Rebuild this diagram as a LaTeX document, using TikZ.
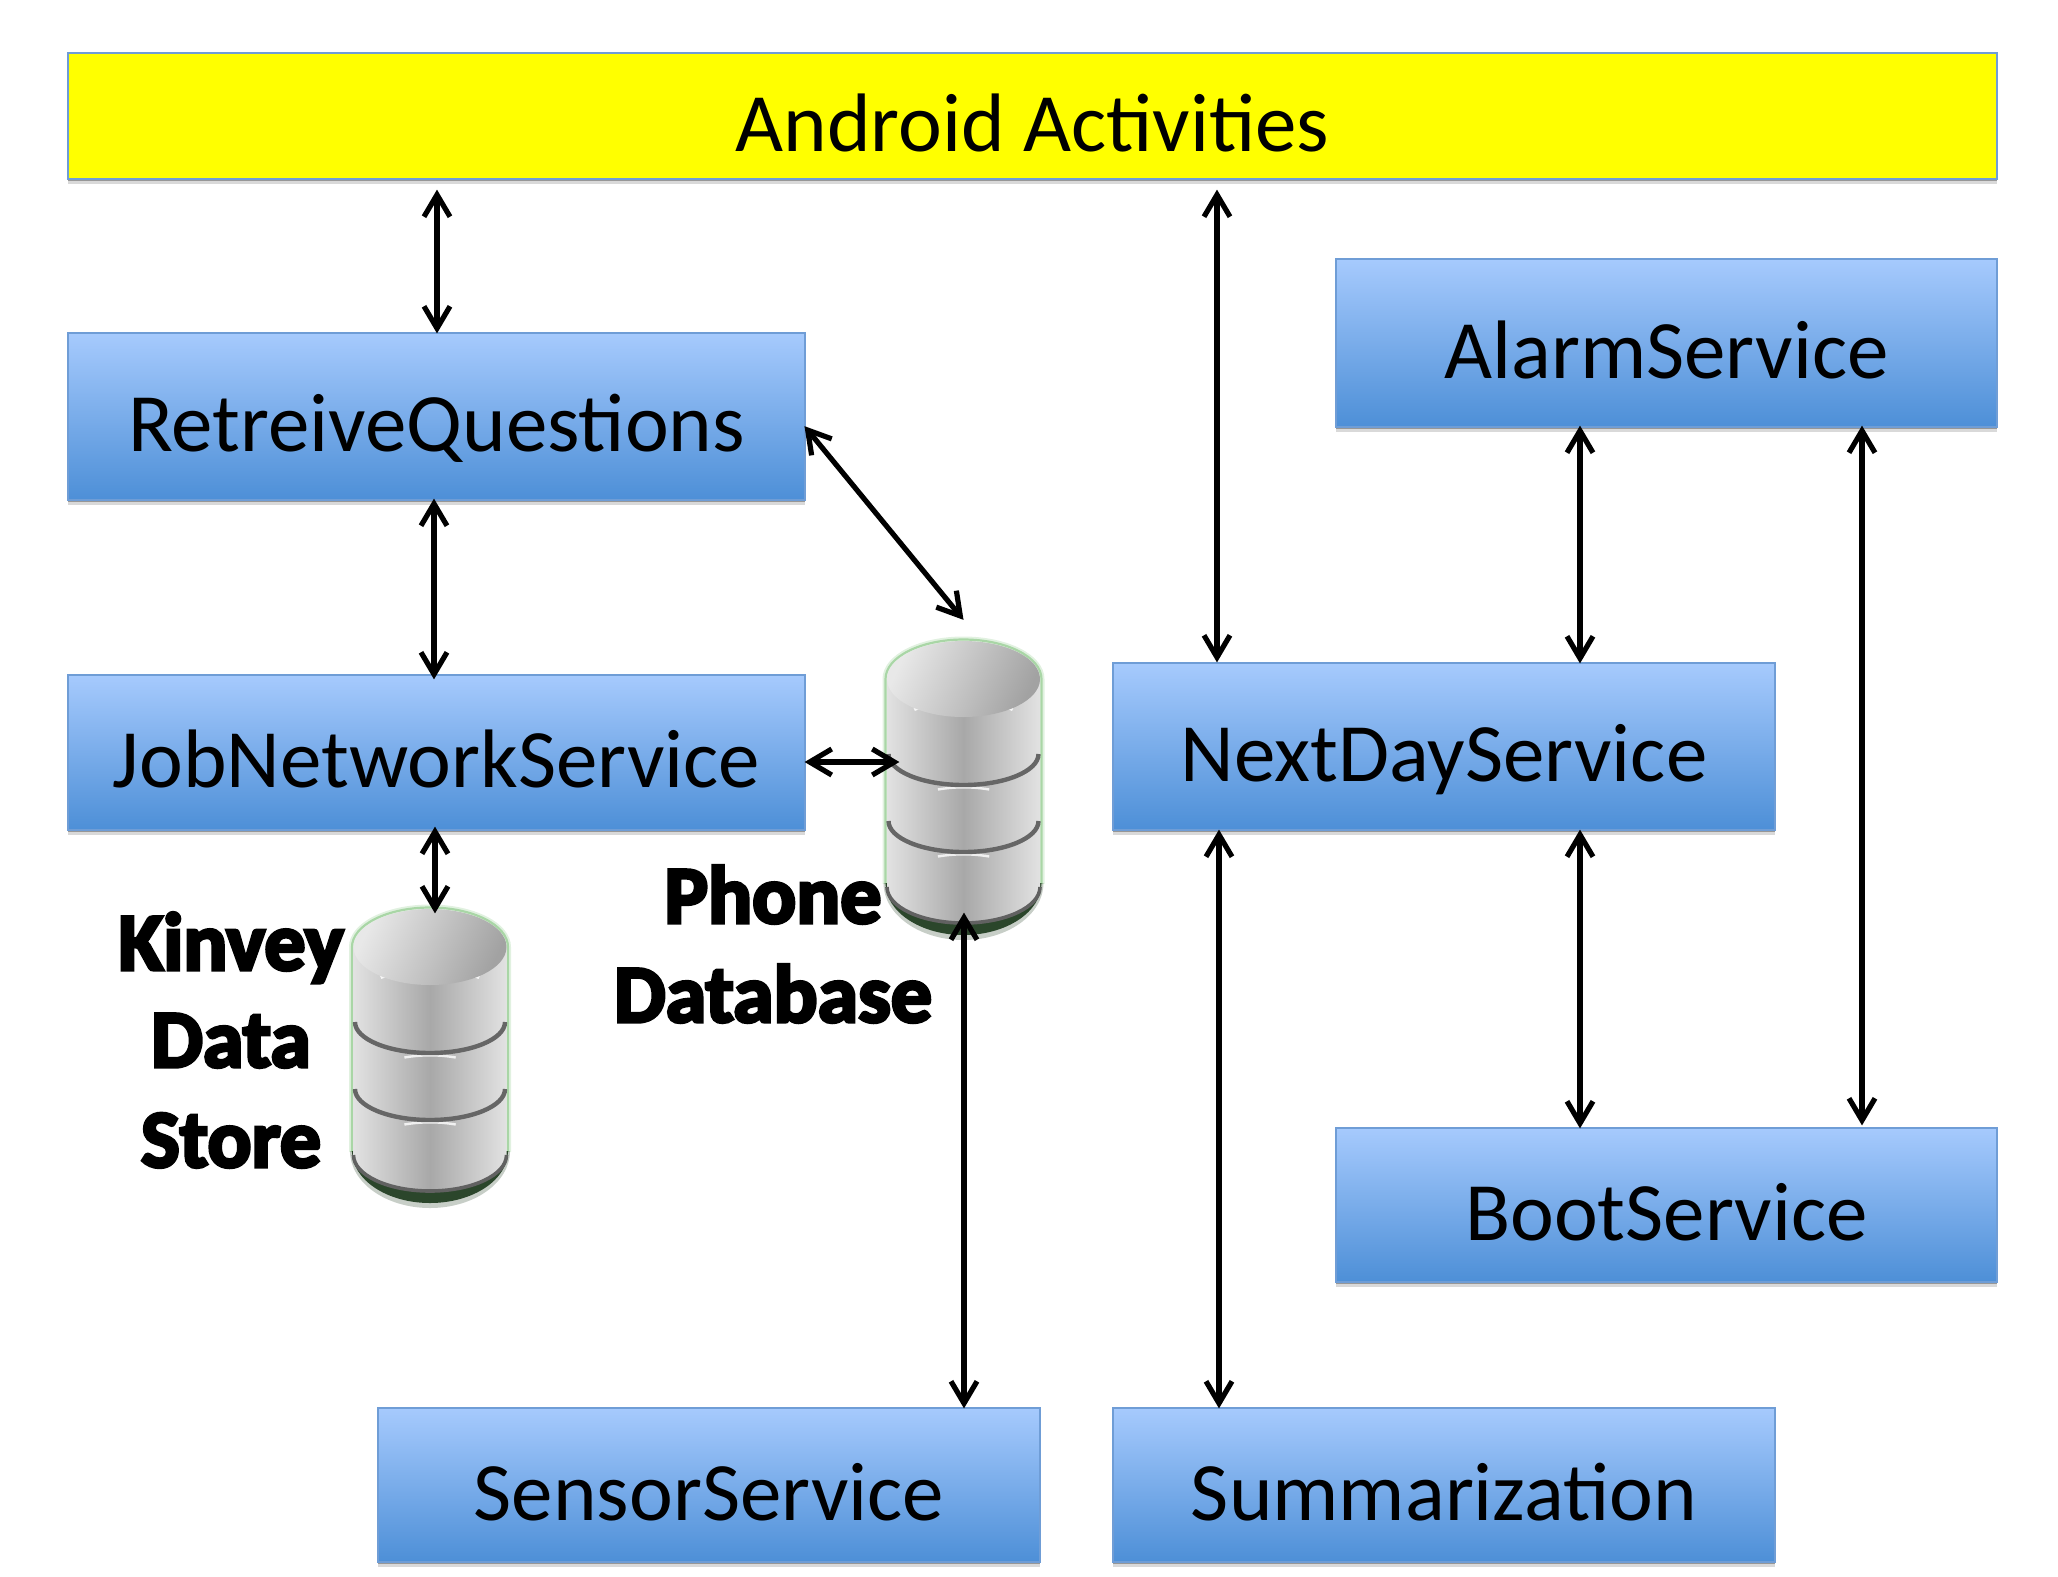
\documentclass[tikz,border=0pt]{standalone}
\usepackage{fontspec}
\setmainfont{Carlito}
\newfontfamily\heavyfont[FakeBold=4]{Carlito Bold}
\usetikzlibrary{arrows.meta,shadows}
\definecolor{boxtop}{HTML}{A6CAFD}
\definecolor{boxbot}{HTML}{4D8FD7}
\definecolor{boxline}{HTML}{6F9DD6}
\definecolor{barfill}{HTML}{FFFF00}
\definecolor{glow}{HTML}{A9D6A6}
\definecolor{dbshadow}{HTML}{1E3A1E}
\definecolor{dblight}{HTML}{E2E2E2}
\definecolor{dbmid}{HTML}{A8A8A8}
\definecolor{dbtoplight}{HTML}{E8E8E8}
\definecolor{dbtopdark}{HTML}{A2A2A2}
\newcommand{\boxtext}[1]{\smash{\raisebox{-17.5pt}{#1}}}
\newcommand{\dbshape}[2]{%
  \begin{scope}[shift={(#1,#2)}]
    % green glow and dark shadow
    \draw[glow,line width=3pt,opacity=.35] (-78,205) -- (-78,0) arc[start angle=180,end angle=360,x radius=78,y radius=39.5] -- (78,205);
    \draw[glow,line width=1.1pt] (-78,205) -- (-78,0) arc[start angle=180,end angle=360,x radius=78,y radius=39.5] -- (78,205);
    \fill[dbshadow,opacity=.25] (-80,204) arc[start angle=180,end angle=0,x radius=80,y radius=57] -- cycle;
    \fill[dbshadow,opacity=.92] (-78,204) arc[start angle=180,end angle=0,x radius=78,y radius=52] -- cycle;
    % body
    \shade[left color=dblight,right color=dblight,middle color=dbmid]
      (-76.5,0) -- (-76.5,208) arc[start angle=180,end angle=0,x radius=76.5,y radius=36] -- (76.5,0) -- cycle;
    % bottom rim
    \draw[black!62,line width=1.8pt] (-76.5,208) arc[start angle=180,end angle=0,x radius=76.5,y radius=36];
    % bands
    \foreach \by in {76,143}{
      \draw[white,line width=1.2pt,opacity=.8] (-25.6,\by+34.5) arc[start angle=250,end angle=290,x radius=75,y radius=36];
      \draw[black!60,line width=2.2pt] (-75,\by-1) arc[start angle=180,end angle=0,x radius=75,y radius=31];
    }
    % top
    \draw[white,line width=1.5pt,opacity=.85] (-49.2,30.6) arc[start angle=230,end angle=310,x radius=76.5,y radius=40];
    \shade[left color=dbtoplight,right color=dbtopdark,shading angle=65]
      (0,0) ellipse[x radius=76.5,y radius=38];
  \end{scope}}
\tikzset{
  x=0.5pt,y=-0.5pt,
  boxbase/.style={draw=boxline,line width=.6pt,inner sep=0pt,outer sep=0pt,font=\fontsize{41.5}{48}\selectfont,
    drop shadow={shadow xshift=0pt,shadow yshift=-1pt,opacity=.3,fill=black},
    drop shadow={shadow xshift=0pt,shadow yshift=-2.5pt,opacity=.15,fill=black}},
  svcbox/.style={boxbase,top color=boxtop,bottom color=boxbot},
  topbar/.style={boxbase,fill=barfill},
  dbanchor/.style={inner sep=0pt,outer sep=0pt,minimum width=76.5pt,minimum height=141.5pt},
  dblabel/.style={anchor=base,inner sep=0pt,font=\heavyfont\fontsize{41}{47}\selectfont},
  biarrow/.style={line width=2.6pt,shorten <=-1.2pt,shorten >=-1.2pt,{Straight Barb[length=11pt,width=13pt,line width=2.6pt]}-{Straight Barb[length=11pt,width=13pt,line width=2.6pt]}},
}
\begin{document}
\begin{tikzpicture}
\useasboundingbox (0,0) rectangle (2058,1576);

\node[topbar,minimum width=964.5pt,minimum height=63pt] (android) at (1032.5,116) {\boxtext{Android Activities}};
\node[svcbox,minimum width=368.5pt,minimum height=83.5pt] (retreive) at (436.5,416.5) {\boxtext{RetreiveQuestions}};
\node[svcbox,minimum width=368.5pt,minimum height=77.5pt] (job) at (436.5,752.5) {\boxtext{JobNetworkService}};
\node[svcbox,minimum width=330.5pt,minimum height=84pt] (alarm) at (1666.5,343) {\boxtext{AlarmService}};
\node[svcbox,minimum width=331pt,minimum height=83.5pt] (nextday) at (1444,746.5) {\boxtext{NextDayService}};
\node[svcbox,minimum width=330.5pt,minimum height=77pt] (boot) at (1666.5,1205) {\boxtext{BootService}};
\node[svcbox,minimum width=331pt,minimum height=77pt] (sensor) at (709,1485) {\boxtext{SensorService}};
\node[svcbox,minimum width=331pt,minimum height=77pt] (summ) at (1444,1485) {\boxtext{Summarization}};

\dbshape{963.5}{679}
\dbshape{430}{947}
\node[dbanchor] (phonedb) at (963.5,781.5) {};
\node[dbanchor] (kinveydb) at (430,1049.5) {};

\node[dblabel] (phone) at (773,923) {Phone};
\node[dblabel] (database) at (773,1022) {Database};
\node[dblabel] (kinvey) at (231,970) {Kinvey};
\node[dblabel] (data) at (231,1067) {Data};
\node[dblabel] (store) at (231,1167) {Store};

\draw[biarrow] ([shift={(-595.5,13)}]android.south) -- ([shift={(0.5,-2)}]retreive.north);
\draw[biarrow] ([shift={(184.5,13)}]android.south) -- ([shift={(-227,-3)}]nextday.north);
\draw[biarrow] ([shift={(1,11.5)}]retreive.east) -- ([shift={(-1.5,-22)}]phonedb.north);
\draw[biarrow] ([shift={(-2.5,1)}]retreive.south) -- ([shift={(-2.5,2)}]job.north);
\draw[biarrow] ([shift={(2,9.5)}]job.east) -- ([shift={(10,-19.5)}]phonedb.west);
\draw[biarrow] ([shift={(-1.5,-1)}]job.south) -- ([shift={(5,3)}]kinveydb.north);
\draw[biarrow] ([shift={(0.5,-8)}]phonedb.south) -- ([shift={(255,-2)}]sensor.north);
\draw[biarrow] ([shift={(-225,2)}]nextday.south) -- ([shift={(-225,-2)}]summ.north);
\draw[biarrow] ([shift={(-86.5,1)}]alarm.south) -- ([shift={(136,-2)}]nextday.north);
\draw[biarrow] ([shift={(136,2)}]nextday.south) -- ([shift={(-86.5,-2)}]boot.north);
\draw[biarrow] ([shift={(195.5,1)}]alarm.south) -- ([shift={(195.5,-5)}]boot.north);
\end{tikzpicture}
\end{document}
